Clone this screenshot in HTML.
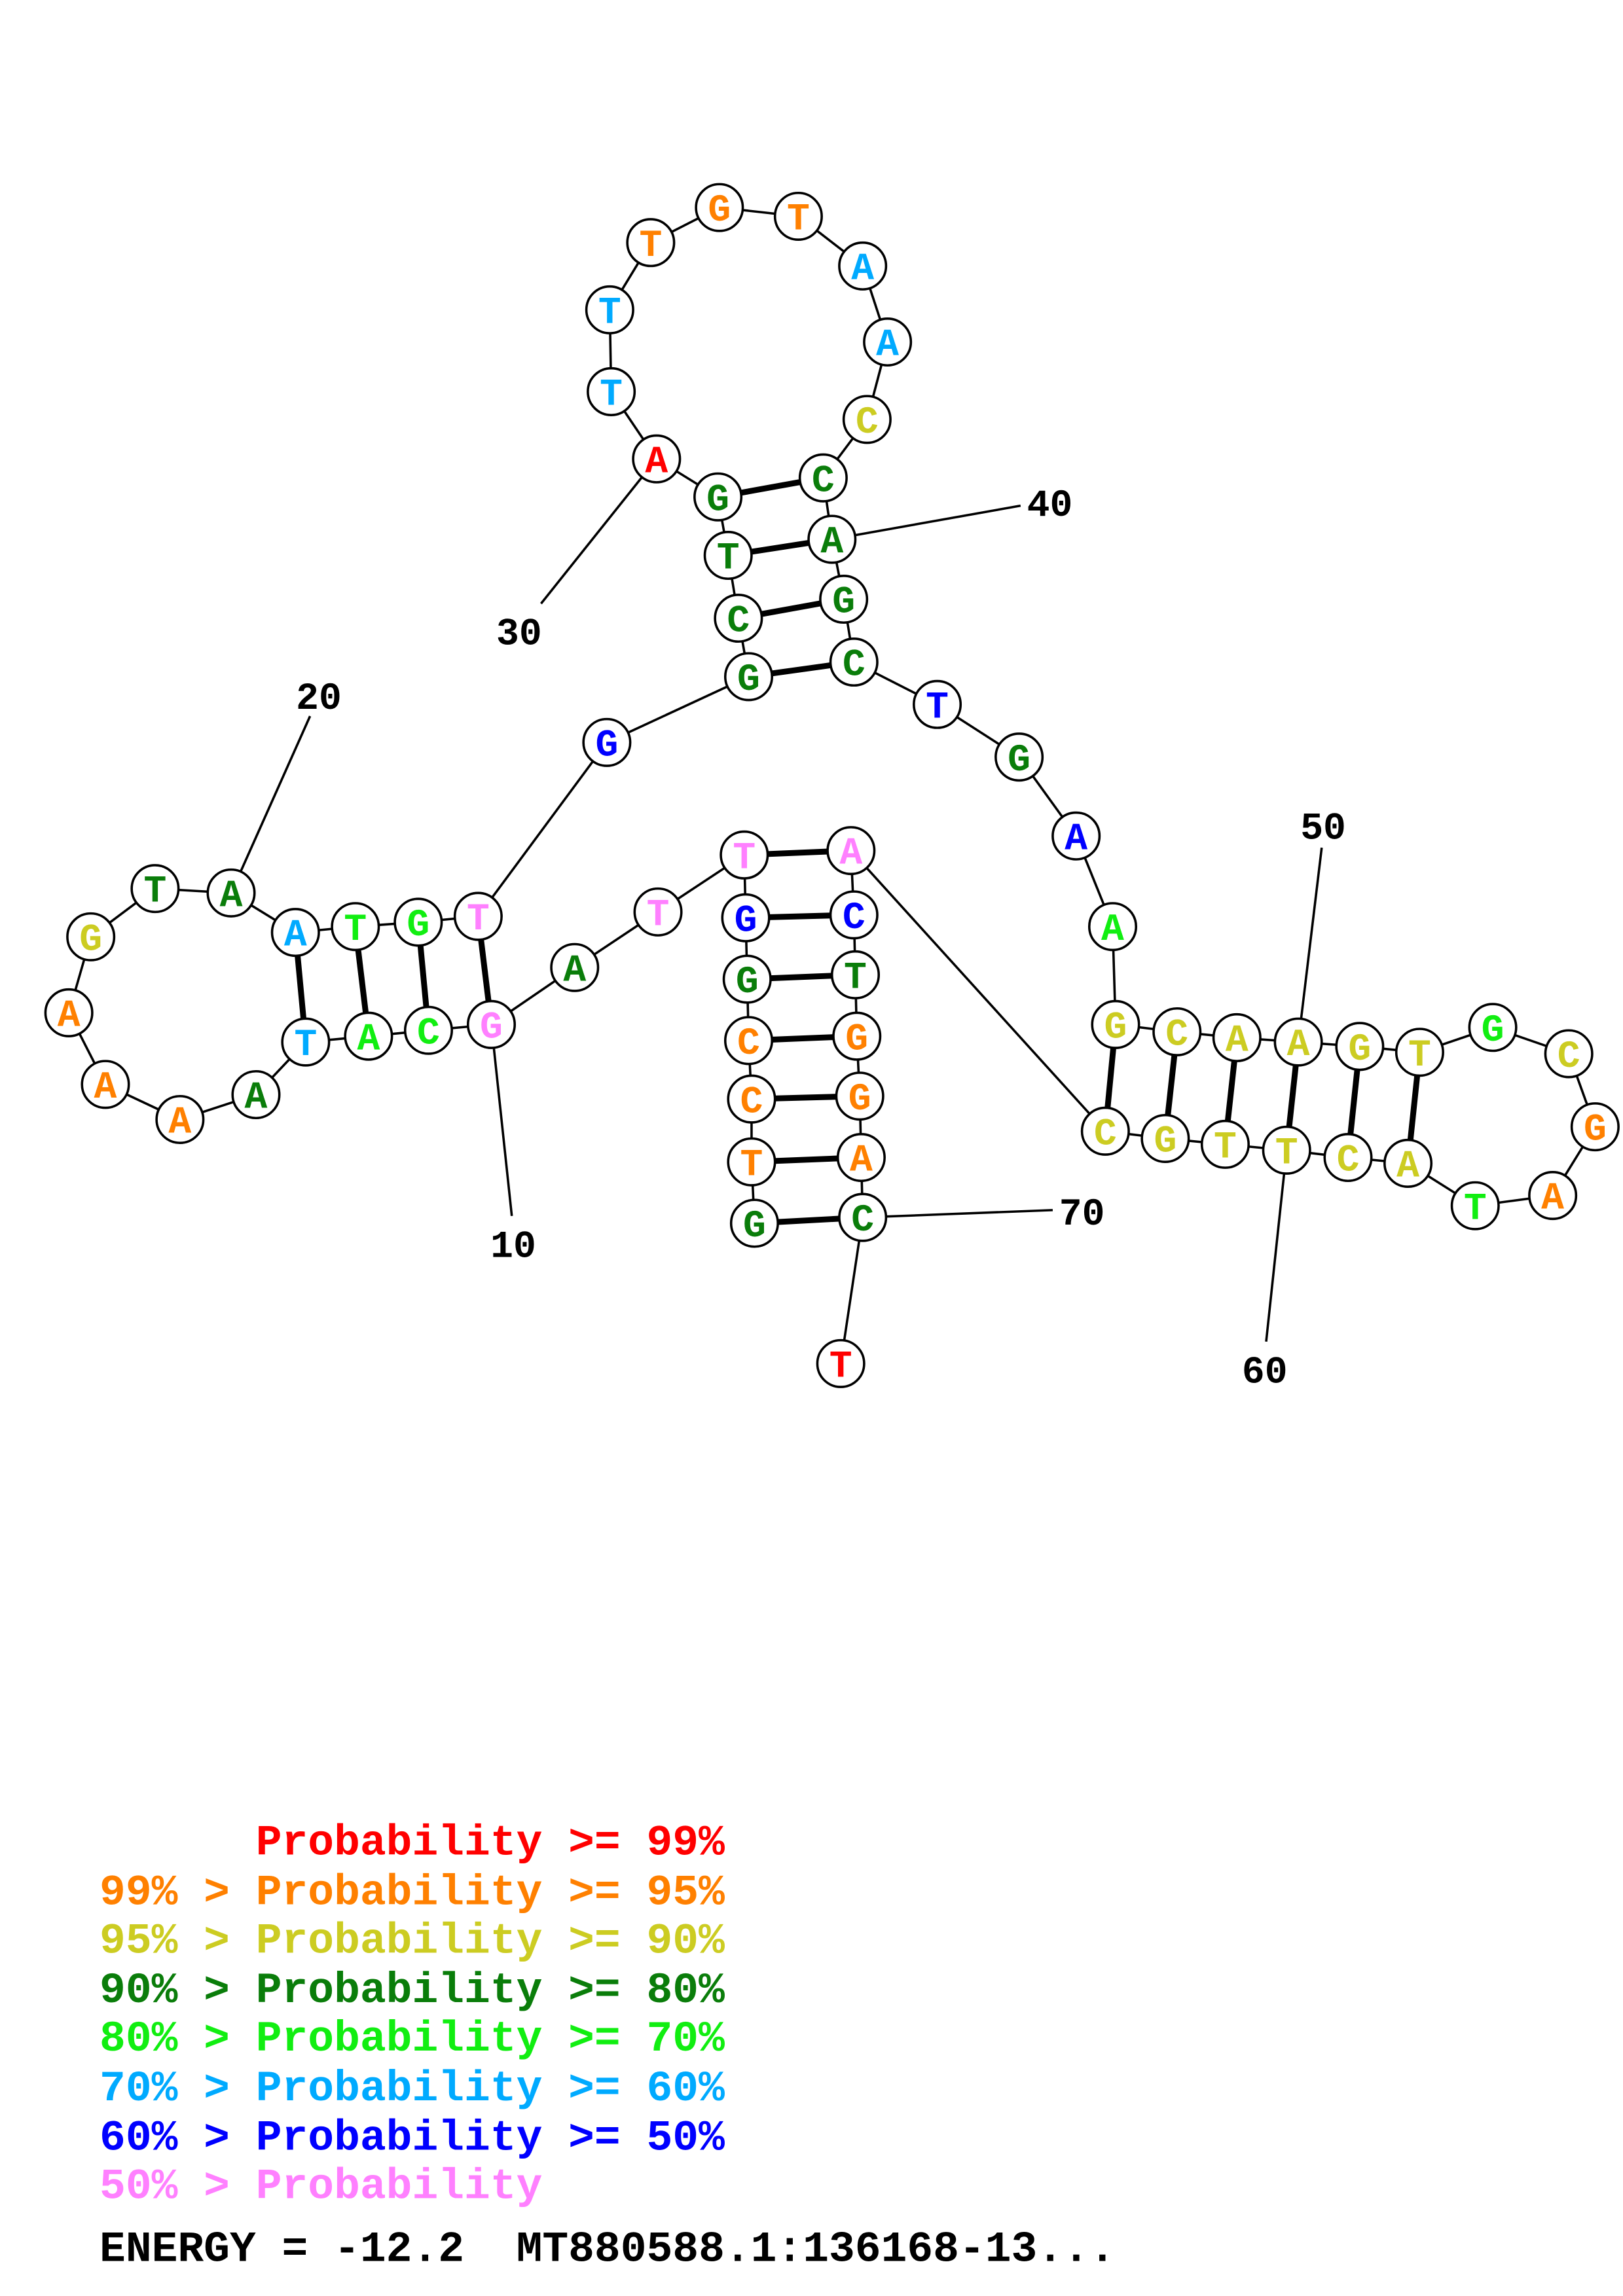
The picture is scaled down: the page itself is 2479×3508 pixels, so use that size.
<!DOCTYPE html>
<html><head><meta charset="utf-8"><style>
html,body{margin:0;padding:0;background:#fff;width:2479px;height:3508px;overflow:hidden}
svg{display:block}
.n{font-family:"Liberation Mono",monospace;font-weight:bold;font-size:26px;text-anchor:middle}
.l{font-family:"Liberation Mono",monospace;font-weight:bold;font-size:26px;fill:#000;text-anchor:middle}
.g{font-family:"Liberation Mono",monospace;font-weight:bold;font-size:29.7px;white-space:pre}
</style></head><body>
<svg width="2479" height="3508" viewBox="0 0 1110 1571" xmlns="http://www.w3.org/2000/svg">
<defs><style>.R{fill:#ff0000}.O{fill:#ff8000}.Y{fill:#cccc22}.D{fill:#0a7d0a}.B{fill:#11ee11}.S{fill:#00aaff}.U{fill:#0000ff}.P{fill:#ff80ff}</style></defs>
<g stroke="#000" stroke-width="1.6" fill="none">
<polyline points="516,837 514,795 514,752 512,712 511,670 510,628 509,585 450,624 393,662 336,701 293,705 252,709 209,713 175,749 123,766 72,742 47,693 62,641 106,608 158,611 202,638 243,634 286,631 327,627 415,508 512,463 505,423 498,380 491,340 449,314 418,268 417,212 445,166 492,142 546,148 590,182 607,234 593,287 563,327 569,369 577,410 584,453 641,482 697,518 736,572 761,634 763,701 805,706 846,710 888,713 930,716 971,720 1021,703 1073,721 1091,771 1062,818 1009,825 963,796 922,792 880,787 838,783 797,779 756,774 582,582 584,626 585,667 586,709 588,750 589,792 590,833 575,933"/>
<line x1="336" y1="701" x2="350" y2="832"/>
<line x1="158" y1="611" x2="212" y2="490"/>
<line x1="449" y1="314" x2="370" y2="413"/>
<line x1="569" y1="369" x2="698" y2="346"/>
<line x1="888" y1="713" x2="904" y2="580"/>
<line x1="880" y1="787" x2="866" y2="918"/>
<line x1="590" y1="833" x2="720" y2="828"/>
</g>
<g stroke="#000" stroke-width="4">
<line x1="516" y1="837" x2="590" y2="833"/><line x1="514" y1="795" x2="589" y2="792"/><line x1="514" y1="752" x2="588" y2="750"/><line x1="512" y1="712" x2="586" y2="709"/><line x1="511" y1="670" x2="585" y2="667"/><line x1="510" y1="628" x2="584" y2="626"/><line x1="509" y1="585" x2="582" y2="582"/>
<line x1="336" y1="701" x2="327" y2="627"/><line x1="293" y1="705" x2="286" y2="631"/><line x1="252" y1="709" x2="243" y2="634"/><line x1="209" y1="713" x2="202" y2="638"/>
<line x1="512" y1="463" x2="584" y2="453"/><line x1="505" y1="423" x2="577" y2="410"/><line x1="498" y1="380" x2="569" y2="369"/><line x1="491" y1="340" x2="563" y2="327"/>
<line x1="763" y1="701" x2="756" y2="774"/><line x1="805" y1="706" x2="797" y2="779"/><line x1="846" y1="710" x2="838" y2="783"/><line x1="888" y1="713" x2="880" y2="787"/><line x1="930" y1="716" x2="922" y2="792"/><line x1="971" y1="720" x2="963" y2="796"/>
</g>
<g fill="#fff" stroke="#000" stroke-width="1.6">
<circle cx="516" cy="837" r="16"/><circle cx="514" cy="795" r="16"/><circle cx="514" cy="752" r="16"/><circle cx="512" cy="712" r="16"/><circle cx="511" cy="670" r="16"/><circle cx="510" cy="628" r="16"/><circle cx="509" cy="585" r="16"/><circle cx="450" cy="624" r="16"/><circle cx="393" cy="662" r="16"/><circle cx="336" cy="701" r="16"/><circle cx="293" cy="705" r="16"/><circle cx="252" cy="709" r="16"/><circle cx="209" cy="713" r="16"/><circle cx="175" cy="749" r="16"/><circle cx="123" cy="766" r="16"/><circle cx="72" cy="742" r="16"/><circle cx="47" cy="693" r="16"/><circle cx="62" cy="641" r="16"/><circle cx="106" cy="608" r="16"/><circle cx="158" cy="611" r="16"/><circle cx="202" cy="638" r="16"/><circle cx="243" cy="634" r="16"/><circle cx="286" cy="631" r="16"/><circle cx="327" cy="627" r="16"/><circle cx="415" cy="508" r="16"/><circle cx="512" cy="463" r="16"/><circle cx="505" cy="423" r="16"/><circle cx="498" cy="380" r="16"/><circle cx="491" cy="340" r="16"/><circle cx="449" cy="314" r="16"/><circle cx="418" cy="268" r="16"/><circle cx="417" cy="212" r="16"/><circle cx="445" cy="166" r="16"/><circle cx="492" cy="142" r="16"/><circle cx="546" cy="148" r="16"/><circle cx="590" cy="182" r="16"/><circle cx="607" cy="234" r="16"/><circle cx="593" cy="287" r="16"/><circle cx="563" cy="327" r="16"/><circle cx="569" cy="369" r="16"/><circle cx="577" cy="410" r="16"/><circle cx="584" cy="453" r="16"/><circle cx="641" cy="482" r="16"/><circle cx="697" cy="518" r="16"/><circle cx="736" cy="572" r="16"/><circle cx="761" cy="634" r="16"/><circle cx="763" cy="701" r="16"/><circle cx="805" cy="706" r="16"/><circle cx="846" cy="710" r="16"/><circle cx="888" cy="713" r="16"/><circle cx="930" cy="716" r="16"/><circle cx="971" cy="720" r="16"/><circle cx="1021" cy="703" r="16"/><circle cx="1073" cy="721" r="16"/><circle cx="1091" cy="771" r="16"/><circle cx="1062" cy="818" r="16"/><circle cx="1009" cy="825" r="16"/><circle cx="963" cy="796" r="16"/><circle cx="922" cy="792" r="16"/><circle cx="880" cy="787" r="16"/><circle cx="838" cy="783" r="16"/><circle cx="797" cy="779" r="16"/><circle cx="756" cy="774" r="16"/><circle cx="582" cy="582" r="16"/><circle cx="584" cy="626" r="16"/><circle cx="585" cy="667" r="16"/><circle cx="586" cy="709" r="16"/><circle cx="588" cy="750" r="16"/><circle cx="589" cy="792" r="16"/><circle cx="590" cy="833" r="16"/><circle cx="575" cy="933" r="16"/>
</g>
<g class="n">
<text x="516" y="846" class="D">G</text><text x="514" y="804" class="O">T</text><text x="514" y="761" class="O">C</text><text x="512" y="721" class="O">C</text><text x="511" y="679" class="D">G</text><text x="510" y="637" class="U">G</text><text x="509" y="594" class="P">T</text><text x="450" y="633" class="P">T</text><text x="393" y="671" class="D">A</text><text x="336" y="710" class="P">G</text><text x="293" y="714" class="B">C</text><text x="252" y="718" class="B">A</text><text x="209" y="722" class="S">T</text><text x="175" y="758" class="D">A</text><text x="123" y="775" class="O">A</text><text x="72" y="751" class="O">A</text><text x="47" y="702" class="O">A</text><text x="62" y="650" class="Y">G</text><text x="106" y="617" class="D">T</text><text x="158" y="620" class="D">A</text><text x="202" y="647" class="S">A</text><text x="243" y="643" class="B">T</text><text x="286" y="640" class="B">G</text><text x="327" y="636" class="P">T</text><text x="415" y="517" class="U">G</text><text x="512" y="472" class="D">G</text><text x="505" y="432" class="D">C</text><text x="498" y="389" class="D">T</text><text x="491" y="349" class="D">G</text><text x="449" y="323" class="R">A</text><text x="418" y="277" class="S">T</text><text x="417" y="221" class="S">T</text><text x="445" y="175" class="O">T</text><text x="492" y="151" class="O">G</text><text x="546" y="157" class="O">T</text><text x="590" y="191" class="S">A</text><text x="607" y="243" class="S">A</text><text x="593" y="296" class="Y">C</text><text x="563" y="336" class="D">C</text><text x="569" y="378" class="D">A</text><text x="577" y="419" class="D">G</text><text x="584" y="462" class="D">C</text><text x="641" y="491" class="U">T</text><text x="697" y="527" class="D">G</text><text x="736" y="581" class="U">A</text><text x="761" y="643" class="B">A</text><text x="763" y="710" class="Y">G</text><text x="805" y="715" class="Y">C</text><text x="846" y="719" class="Y">A</text><text x="888" y="722" class="Y">A</text><text x="930" y="725" class="Y">G</text><text x="971" y="729" class="Y">T</text><text x="1021" y="712" class="B">G</text><text x="1073" y="730" class="Y">C</text><text x="1091" y="780" class="O">G</text><text x="1062" y="827" class="O">A</text><text x="1009" y="834" class="B">T</text><text x="963" y="805" class="Y">A</text><text x="922" y="801" class="Y">C</text><text x="880" y="796" class="Y">T</text><text x="838" y="792" class="Y">T</text><text x="797" y="788" class="Y">G</text><text x="756" y="783" class="Y">C</text><text x="582" y="591" class="P">A</text><text x="584" y="635" class="U">C</text><text x="585" y="676" class="D">T</text><text x="586" y="718" class="O">G</text><text x="588" y="759" class="O">G</text><text x="589" y="801" class="O">A</text><text x="590" y="842" class="D">C</text><text x="575" y="942" class="R">T</text>
</g>
<g class="l">
<text x="351" y="860">10</text><text x="218" y="485">20</text><text x="355" y="441">30</text><text x="718" y="353">40</text><text x="905" y="574">50</text><text x="865" y="946">60</text><text x="740" y="838">70</text>
</g>
<g class="g">
<text x="68" y="1269" class="R" xml:space="preserve">      Probability &gt;= 99%</text>
<text x="68" y="1303" class="O" xml:space="preserve">99% &gt; Probability &gt;= 95%</text>
<text x="68" y="1336" class="Y" xml:space="preserve">95% &gt; Probability &gt;= 90%</text>
<text x="68" y="1370" class="D" xml:space="preserve">90% &gt; Probability &gt;= 80%</text>
<text x="68" y="1403" class="B" xml:space="preserve">80% &gt; Probability &gt;= 70%</text>
<text x="68" y="1437" class="S" xml:space="preserve">70% &gt; Probability &gt;= 60%</text>
<text x="68" y="1471" class="U" xml:space="preserve">60% &gt; Probability &gt;= 50%</text>
<text x="68" y="1504" class="P" xml:space="preserve">50% &gt; Probability</text>
<text x="68" y="1547" fill="#000" xml:space="preserve">ENERGY = -12.2  MT880588.1:136168-13...</text>
</g>
</svg>
</body></html>
